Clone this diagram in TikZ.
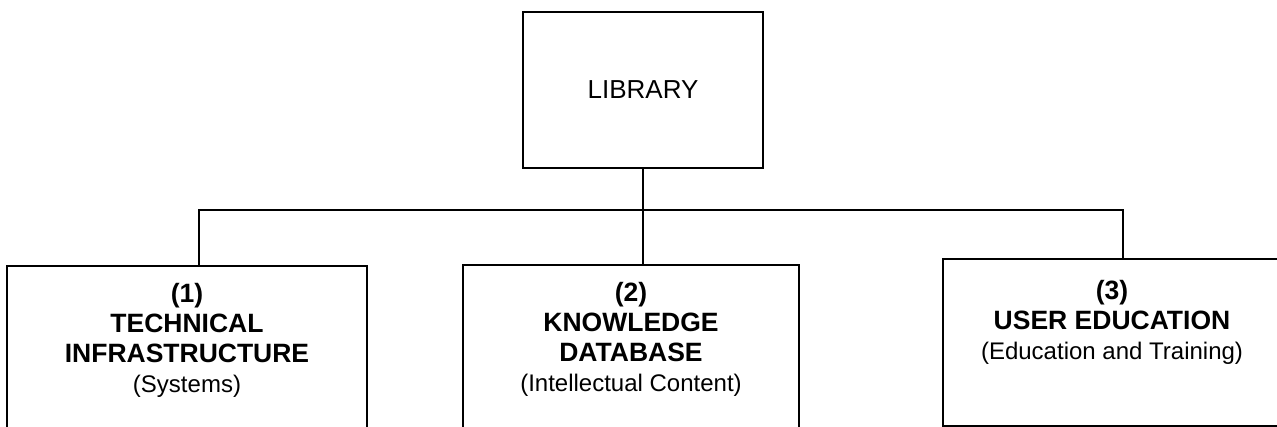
\documentclass[tikz,border=0pt]{standalone}
\usepackage{fontspec}
\setmainfont{Liberation Sans}
\usetikzlibrary{positioning}

\newcommand{\subline}[1]{{\fontsize{24}{30}\selectfont\mdseries #1}}

\tikzset{
	unit/.style={draw,line width=1.8pt,inner sep=0pt},
	unittext/.style={inner sep=0pt,align=center,font=\fontsize{26.5}{30}\selectfont\bfseries},
	wire/.style={line width=1.8pt}
}

\begin{document}
\begin{tikzpicture}[x=1pt,y=-1pt]
	\useasboundingbox (0,0) rectangle (1277,427);
	\clip (0,0) rectangle (1277,427);
	% top box
	\node[unit,minimum width=240pt,minimum height=156pt,font=\fontsize{26}{30}\selectfont] (library) at (643,90) {LIBRARY};
	% the three parts
	\node[unit,minimum width=360pt,minimum height=200pt,anchor=north] (technical) at (187,265) {};
	\node[unit,minimum width=336pt,minimum height=200pt,anchor=north] (knowledge) at (631,264) {};
	\node[unit,minimum width=338pt,minimum height=167pt,anchor=north] (education) at (1112,258) {};
	\node[unittext,below=18pt of technical.north] (technical text) {(1)\\TECHNICAL\\INFRASTRUCTURE\\\subline{(Systems)}};
	\node[unittext,below=18pt of knowledge.north] (knowledge text) {(2)\\KNOWLEDGE\\DATABASE\\\subline{(Intellectual Content)}};
	\node[unittext,below=22pt of education.north] (education text) {(3)\\USER EDUCATION\\\subline{(Education and Training)}};
	% connectors
	\coordinate (bus left) at (199,210);
	\coordinate (bus right) at (1123,210);
	\draw[wire] (library.south) -- (library.south |- knowledge.north);
	\draw[wire] (technical.north -| bus left) -- (bus left) -- (bus right) -- (education.north -| bus right);
\end{tikzpicture}
\end{document}
